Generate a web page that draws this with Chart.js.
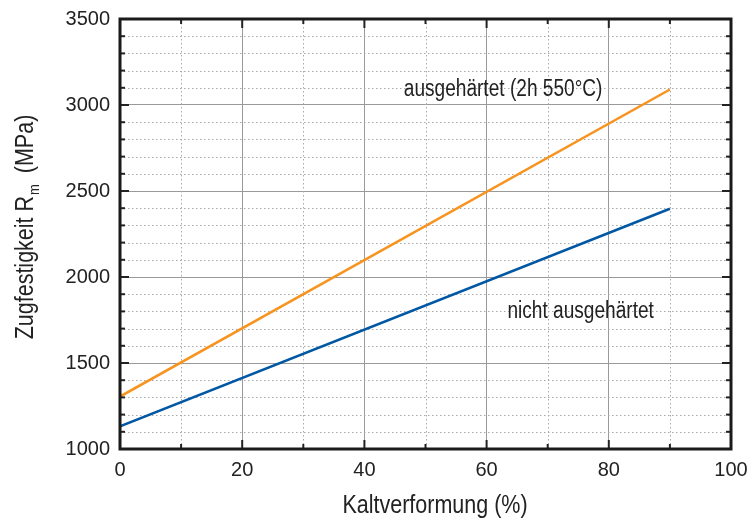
<!DOCTYPE html>
<html>
<head>
<meta charset="utf-8">
<script src="https://cdn.jsdelivr.net/npm/chart.js@4"></script>
<style>
html,body{margin:0;padding:0;background:#fff;}
#wrap{width:748px;height:523px;position:relative;}
</style>
</head>
<body>
<div id="wrap"><canvas id="c" width="748" height="523"></canvas></div>
<script>
const deformation = [0, 90];
const hardened = [1305, 3090];
const notHardened = [1132, 2397];
const xTicks = [0, 20, 40, 60, 80, 100];
const yTicks = [1000, 1500, 2000, 2500, 3000, 3500];
const seriesNames = ['ausgehärtet (2h 550°C)', 'nicht ausgehärtet'];
const xTitle = 'Kaltverformung (%)';
const yTitleParts = ['Zugfestigkeit R', 'm', ' (MPa)'];

const FONT = '"Liberation Sans", Arial, sans-serif';

function squeezedText(ctx, text, x, y, sx) {
  ctx.save();
  ctx.translate(x, y);
  ctx.scale(sx, 1);
  ctx.fillText(text, 0, 0);
  ctx.restore();
}

const decor = {
  id: 'decor',
  beforeDatasetsDraw(chart) {
    const {ctx, chartArea: a, scales: {x, y}} = chart;
    ctx.save();
    ctx.strokeStyle = '#a8a8a8';
    ctx.lineWidth = 1;
    ctx.setLineDash([1.5, 2.5]);
    for (let v = 10; v < 100; v += 20) {
      const px = Math.round(x.getPixelForValue(v)) + 0.5;
      ctx.beginPath(); ctx.moveTo(px, a.top); ctx.lineTo(px, a.bottom); ctx.stroke();
    }
    for (let v = 1100; v < 3500; v += 100) {
      if (v % 500 === 0) continue;
      const py = Math.round(y.getPixelForValue(v)) + 0.5;
      ctx.beginPath(); ctx.moveTo(a.left, py); ctx.lineTo(a.right, py); ctx.stroke();
    }
    ctx.restore();
  },
  afterDatasetsDraw(chart) {
    const {ctx, chartArea: a, scales: {x, y}} = chart;
    ctx.save();
    ctx.strokeStyle = '#222';
    ctx.lineWidth = 2;
    ctx.setLineDash([]);
    for (let v = 1000; v <= 3500; v += 100) {
      const py = y.getPixelForValue(v);
      const len = v % 500 === 0 ? 9 : 5;
      ctx.beginPath(); ctx.moveTo(a.left, py); ctx.lineTo(a.left + len, py); ctx.stroke();
      ctx.beginPath(); ctx.moveTo(a.right, py); ctx.lineTo(a.right - len, py); ctx.stroke();
    }
    for (let v = 0; v <= 100; v += 10) {
      const px = x.getPixelForValue(v);
      const len = v % 20 === 0 ? 9 : 5;
      ctx.beginPath(); ctx.moveTo(px, a.top); ctx.lineTo(px, a.top + len); ctx.stroke();
      ctx.beginPath(); ctx.moveTo(px, a.bottom); ctx.lineTo(px, a.bottom - len); ctx.stroke();
    }
    ctx.lineWidth = 3;
    ctx.strokeStyle = '#1a1a1a';
    ctx.strokeRect(a.left, a.top, a.right - a.left, a.bottom - a.top);

    ctx.fillStyle = '#222';
    ctx.font = '23px ' + FONT;
    ctx.textAlign = 'center';
    ctx.textBaseline = 'middle';
    squeezedText(ctx, seriesNames[0], x.getPixelForValue(62.7), y.getPixelForValue(3090), 0.83);
    squeezedText(ctx, seriesNames[1], x.getPixelForValue(75.4), y.getPixelForValue(1800), 0.83);

    ctx.font = '25px ' + FONT;
    ctx.textBaseline = 'alphabetic';
    squeezedText(ctx, xTitle, 435, 513, 0.86);

    // y title with subscript
    ctx.translate(33, 227);
    ctx.rotate(-Math.PI / 2);
    ctx.scale(0.86, 1);
    ctx.textAlign = 'left';
    const f1 = '25px ' + FONT, f2 = '15px ' + FONT;
    ctx.font = f1; const w1 = ctx.measureText(yTitleParts[0]).width; const w3 = ctx.measureText(yTitleParts[2]).width;
    ctx.font = f2; const w2 = ctx.measureText(yTitleParts[1]).width;
    const total = w1 + w2 + 7 + w3;
    let sx = -total / 2;
    ctx.font = f1; ctx.fillText(yTitleParts[0], sx, 0); sx += w1 + 1;
    ctx.font = f2; ctx.fillText(yTitleParts[1], sx, 6); sx += w2 + 6;
    ctx.font = f1; ctx.fillText(yTitleParts[2], sx, 0);
    ctx.restore();
  }
};

new Chart(document.getElementById('c'), {
  type: 'line',
  data: {
    datasets: [
      {label: seriesNames[0], data: deformation.map((d, i) => ({x: d, y: hardened[i]})),
       borderColor: '#F7931E', borderWidth: 2.5, pointRadius: 0, tension: 0},
      {label: seriesNames[1], data: deformation.map((d, i) => ({x: d, y: notHardened[i]})),
       borderColor: '#0057A3', borderWidth: 2.5, pointRadius: 0, tension: 0}
    ]
  },
  options: {
    responsive: false,
    animation: false,
    layout: {padding: {top: 19, right: 17, left: 0, bottom: 0}},
    plugins: {legend: {display: false}, tooltip: {enabled: false}},
    scales: {
      x: {
        type: 'linear', min: 0, max: 100,
        afterBuildTicks: s => { s.ticks = xTicks.map(v => ({value: v})); },
        afterFit: s => { s.height = 74; s.paddingLeft = 0; s.paddingRight = 0; },
        grid: {color: '#9a9a9a', lineWidth: 1, drawTicks: false},
        border: {display: false},
        ticks: {padding: 9, color: '#222', font: {family: FONT, size: 20}, maxRotation: 0,
                callback: v => String(v)}
      },
      y: {
        type: 'linear', min: 1000, max: 3500,
        afterBuildTicks: s => { s.ticks = yTicks.map(v => ({value: v})); },
        afterFit: s => { s.width = 120; s.paddingTop = 0; s.paddingBottom = 0; },
        grid: {color: '#9a9a9a', lineWidth: 1, drawTicks: false},
        border: {display: false},
        ticks: {padding: 10, color: '#222', font: {family: FONT, size: 20},
                callback: v => String(v)}
      }
    }
  },
  plugins: [decor]
});
</script>
</body>
</html>
